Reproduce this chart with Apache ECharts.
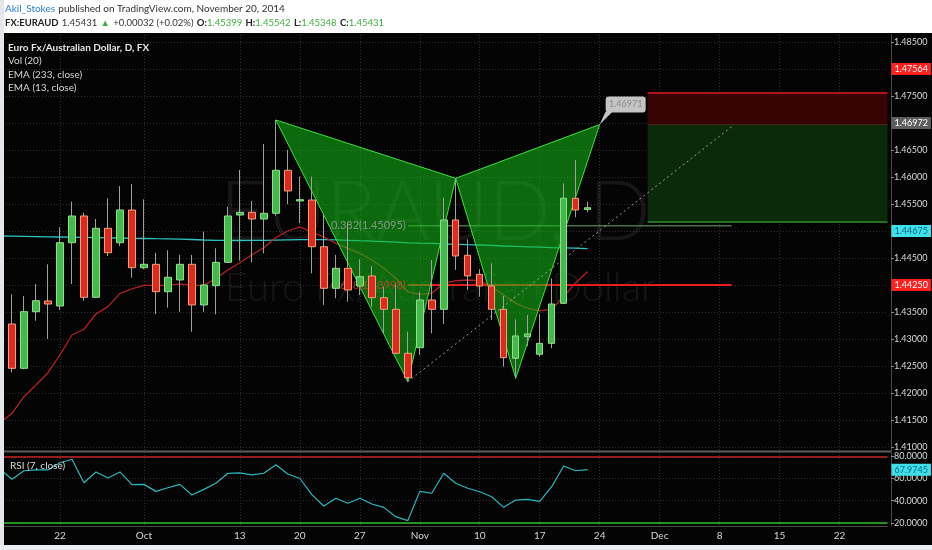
<!DOCTYPE html>
<html><head><meta charset="utf-8">
<script src="https://cdn.jsdelivr.net/npm/echarts@6/dist/echarts.min.js"></script>
<style>html,body{margin:0;padding:0;background:#fff;}#c{width:932px;height:550px;}</style>
</head><body><div id="c"></div>
<script>
// ---- categories (trading days) ----
const dates = [
 '2014-09-15','2014-09-16','2014-09-17','2014-09-18','2014-09-19','2014-09-22','2014-09-23','2014-09-24','2014-09-25','2014-09-26','2014-09-29','2014-09-30',
 '2014-10-01','2014-10-02','2014-10-03','2014-10-06','2014-10-07','2014-10-08','2014-10-09','2014-10-10','2014-10-13','2014-10-14','2014-10-15','2014-10-16','2014-10-17',
 '2014-10-20','2014-10-21','2014-10-22','2014-10-23','2014-10-24','2014-10-27','2014-10-28','2014-10-29','2014-10-30','2014-10-31',
 '2014-11-03','2014-11-04','2014-11-05','2014-11-06','2014-11-07','2014-11-10','2014-11-11','2014-11-12','2014-11-13','2014-11-14',
 '2014-11-17','2014-11-18','2014-11-19','2014-11-20','2014-11-21','2014-11-24','2014-11-25','2014-11-26','2014-11-27','2014-11-28',
 '2014-12-01','2014-12-02','2014-12-03','2014-12-04','2014-12-05','2014-12-08','2014-12-09','2014-12-10','2014-12-11','2014-12-12',
 '2014-12-15','2014-12-16','2014-12-17','2014-12-18','2014-12-19','2014-12-22','2014-12-23','2014-12-24','2014-12-25','2014-12-26'
];
const tickDates = ['2014-09-22','2014-10-01','2014-10-13','2014-10-20','2014-10-27','2014-11-03','2014-11-10','2014-11-17','2014-11-24','2014-12-01','2014-12-08','2014-12-15','2014-12-22'];
const tickLabels = ['22','Oct','13','20','27','Nov','10','17','24','Dec','8','15','22'];
const priceTicks = [1.410,1.415,1.420,1.425,1.430,1.435,1.440,1.445,1.450,1.455,1.460,1.465,1.470,1.475,1.480,1.485];
const rsiTicks = [20,40,60,80];

// ---- OHLC ----
const openP = [null,1.43278,1.42457,1.43506,1.43704,1.43611,1.44783,1.45278,1.43772,1.45050,1.44783,1.45389,1.44320,1.44383,1.43876,1.44093,1.44383,1.43630,1.43987,1.44420,1.45296,1.45346,1.45222,1.45328,1.46124,1.45556,1.45574,1.44709,1.43939,1.44309,1.43981,1.44167,1.43765,1.43550,1.42735,1.42839,1.43722,1.43550,1.45204,1.44550,1.44198,1.43981,1.43550,1.42643,1.43043,1.42717,1.42920,1.43661,1.45606,1.45399];
const closeP = [null,1.42457,1.43506,1.43709,1.43648,1.44783,1.45278,1.43772,1.45050,1.44598,1.45389,1.44320,1.44383,1.43876,1.44143,1.44383,1.43630,1.44000,1.44420,1.45278,1.45346,1.45222,1.45328,1.46124,1.45741,1.45580,1.44709,1.43939,1.44309,1.43907,1.44154,1.43765,1.43550,1.42735,1.42283,1.43722,1.43550,1.45204,1.44537,1.44167,1.43981,1.43550,1.42654,1.43056,1.43093,1.42920,1.43648,1.45606,1.45389,1.45431];
const highP = [null,1.43828,1.43796,1.44019,1.44383,1.45068,1.45543,1.45339,1.45222,1.45606,1.45833,1.45870,1.45587,1.44598,1.44643,1.44556,1.44556,1.44987,1.44680,1.45450,1.46130,1.45556,1.46611,1.47056,1.46500,1.46006,1.46006,1.45296,1.44556,1.45143,1.44476,1.44352,1.43969,1.44043,1.43135,1.43876,1.44463,1.45617,1.45976,1.44846,1.44291,1.44402,1.43796,1.43365,1.43444,1.43457,1.44124,1.45883,1.46315,1.45542];
const lowP = [null,1.42383,1.42440,1.43339,1.43000,1.43537,1.44019,1.43709,1.43760,1.44537,1.44722,1.44135,1.44291,1.43463,1.43580,1.43506,1.43135,1.43506,1.43457,1.44410,1.44450,1.44420,1.44587,1.45283,1.45494,1.45143,1.44217,1.43630,1.43754,1.43691,1.43815,1.43599,1.43106,1.42720,1.42209,1.42704,1.43106,1.43278,1.44278,1.43907,1.43784,1.43352,1.42487,1.42272,1.42870,1.42672,1.42828,1.43648,1.45254,1.45348];

// ---- indicators ----
const ema13 = [1.41444,1.41624,1.41932,1.42148,1.42376,1.42704,1.43074,1.43180,1.43463,1.43599,1.43846,1.43926,1.43994,1.43994,1.43994,1.44019,1.43994,1.43994,1.44124,1.44278,1.44413,1.44560,1.44690,1.44880,1.45000,1.45075,1.44981,1.44889,1.44772,1.44680,1.44587,1.44463,1.44309,1.44124,1.43876,1.43828,1.43846,1.44031,1.44080,1.44093,1.44080,1.43969,1.43815,1.43661,1.43569,1.43525,1.43550,1.43784,1.44043,1.44250];
const ema233 = [1.44907,1.44904,1.44900,1.44896,1.44893,1.44889,1.44885,1.44881,1.44878,1.44874,1.44870,1.44865,1.44861,1.44857,1.44854,1.44850,1.44843,1.44833,1.44828,1.44826,1.44824,1.44826,1.44828,1.44831,1.44835,1.44839,1.44841,1.44839,1.44835,1.44828,1.44820,1.44813,1.44804,1.44793,1.44781,1.44774,1.44769,1.44761,1.44754,1.44746,1.44741,1.44733,1.44722,1.44715,1.44707,1.44700,1.44693,1.44687,1.44681,1.44675];
const rsi7 = [68.4,59.3,67.0,67.7,67.7,74.2,77.3,56.2,65.9,60.5,65.9,54.4,54.7,48.4,51.7,54.7,45.1,50.2,55.7,64.7,65.0,63.2,64.7,72.4,64.1,60.0,45.5,35.2,42.2,37.7,42.2,37.0,34.0,25.6,22.0,48.4,46.7,64.7,55.7,51.2,48.1,43.6,34.0,40.6,41.2,39.4,52.6,71.3,67.0,67.9745];

// ---- drawings ----
const patternDates = ['2014-10-16','2014-10-31','2014-11-06','2014-11-13','2014-11-24'];
const patternPrices = [1.47056,1.42209,1.45976,1.42272,1.46971];
const trendDates = ['2014-10-31','2014-12-09'];
const trendPrices = [1.42209,1.46930];
const fibRatios = ['0.382','0.618'];
const fibLevels = [1.45095,1.43998];
const fibDates = ['2014-10-31','2014-12-09'];
const zoneDates = ['2014-11-28','2014-12-26'];
const zoneLevels = [1.47564,1.46972,1.45166]; // stop, entry, target
const priceTags = [1.47564,1.46972,1.45431,1.45166,1.44675,1.44250];
const rsiTag = 67.9745;

// ---- layout constants ----
const MAIN_MIN = 1.409259, MAIN_MAX = 1.486296;
const RSI_MIN = 17.2, RSI_MAX = 83.87;
const AX = "Lato, 'Liberation Sans', sans-serif";
const UI = "Lato, 'Liberation Sans', sans-serif";
const GRIDC = '#2f2f2f';

const isTick = (i, v) => tickDates.indexOf(v) >= 0;
const wickData = openP.map((o,i)=> o==null ? '-' : [o, closeP[i], lowP[i], highP[i]]);
const bodyData = openP.map((o,i)=> o==null ? '-' : [o, closeP[i], Math.min(o,closeP[i]), Math.max(o,closeP[i])]);

const tagBg = ['#ff2020','#5e5e5e','#3aa83a','#2a9a2a','#3ee0ea','#ff2020'];
const tagFg = ['#fff','#fff','#fff','#fff','#14657c','#fff'];

const chart = echarts.init(document.getElementById('c'), null, {renderer:'canvas'});
const option = {
  animation:false,
  backgroundColor:'#040404',
  grid:[
    {left:-0.5, right:44.5, top:35, height:416},
    {left:-0.5, right:44.5, top:452, height:74}
  ],
  xAxis:[
    {type:'category', gridIndex:0, data:dates, boundaryGap:false,
     axisLine:{show:false}, axisTick:{show:false}, axisLabel:{show:false},
     splitLine:{show:true, interval:isTick, lineStyle:{color:GRIDC, type:[1,2]}}},
    {type:'category', gridIndex:1, data:dates, boundaryGap:false,
     axisLine:{show:true, lineStyle:{color:'#4a4a4a'}}, axisTick:{show:false},
     axisLabel:{interval:isTick, formatter:v=>tickLabels[tickDates.indexOf(v)], color:'#d6d6d6', fontSize:10, margin:5, fontFamily:AX},
     splitLine:{show:true, interval:isTick, lineStyle:{color:GRIDC, type:[1,2]}}}
  ],
  yAxis:[
    {type:'value', gridIndex:0, position:'right', offset:3.5, min:MAIN_MIN, max:MAIN_MAX,
     axisLine:{show:true, lineStyle:{color:'#4a4a4a'}},
     axisTick:{show:true, length:3, customValues:priceTicks, lineStyle:{color:'#888'}},
     axisLabel:{customValues:priceTicks, formatter:v=>v.toFixed(5), color:'#dadada', fontSize:9, margin:3, fontFamily:AX},
     splitLine:{show:true, lineStyle:{color:GRIDC, type:[1,2]}}},
    {type:'value', gridIndex:1, position:'right', offset:3.5, min:RSI_MIN, max:RSI_MAX,
     axisLine:{show:true, lineStyle:{color:'#4a4a4a'}},
     axisTick:{show:true, length:3, customValues:rsiTicks, lineStyle:{color:'#888'}},
     axisLabel:{customValues:rsiTicks, formatter:v=>v.toFixed(4), color:'#dadada', fontSize:9, margin:3, fontFamily:AX},
     splitLine:{show:true, lineStyle:{color:GRIDC, type:[1,2]}}}
  ],
  series:[
    {name:'EMA233', type:'line', xAxisIndex:0, yAxisIndex:0, data:ema233, symbol:'none', z:2, silent:true,
     lineStyle:{color:'#2cc2c2', width:1.3}},
    {name:'EMA13', type:'line', xAxisIndex:0, yAxisIndex:0, data:ema13, symbol:'none', z:2, silent:true,
     lineStyle:{color:'#b52020', width:1.3}},
    {name:'fib0', type:'line', xAxisIndex:0, yAxisIndex:0, z:2, silent:true, symbol:'none',
     data:[[fibDates[0], fibLevels[0]],[fibDates[1], fibLevels[0]]],
     lineStyle:{color:'rgba(95,150,95,0.75)', width:1.5},
     markPoint:{silent:true, symbol:'circle', symbolSize:0, data:[{coord:[fibDates[0], fibLevels[0]]}],
       label:{show:true, position:'left', distance:2, formatter:fibRatios[0]+'('+fibLevels[0].toFixed(5)+')', color:'rgba(150,160,150,0.85)', fontSize:11, fontFamily:UI}}},
    {name:'fib1', type:'line', xAxisIndex:0, yAxisIndex:0, z:2, silent:true, symbol:'none',
     data:[[fibDates[0], fibLevels[1]],[fibDates[1], fibLevels[1]]],
     lineStyle:{color:'#e81c1c', width:2},
     markPoint:{silent:true, symbol:'circle', symbolSize:0, data:[{coord:[fibDates[0], fibLevels[1]]}],
       label:{show:true, position:'left', distance:2, formatter:fibRatios[1]+'('+fibLevels[1].toFixed(5)+')', color:'rgba(200,70,40,0.85)', fontSize:11, fontFamily:UI}}},
    {name:'zones', type:'line', xAxisIndex:0, yAxisIndex:0, z:1, silent:true, symbol:'none',
     data:[[zoneDates[0], zoneLevels[1]],[zoneDates[1], zoneLevels[1]]],
     lineStyle:{color:'rgba(120,60,40,0.5)', width:1},
     markArea:{silent:true, data:[
       [{xAxis:zoneDates[0], yAxis:zoneLevels[0], itemStyle:{color:'#380303'}},{xAxis:zoneDates[1], yAxis:zoneLevels[1]}],
       [{xAxis:zoneDates[0], yAxis:zoneLevels[1], itemStyle:{color:'#0a2a0a'}},{xAxis:zoneDates[1], yAxis:zoneLevels[2]}]
     ]},
     markLine:{silent:true, symbol:['none','none'], label:{show:false}, data:[
       [{coord:[zoneDates[0], zoneLevels[0]], lineStyle:{color:'#e01a1a', width:1.5, type:'solid'}},{coord:[zoneDates[1], zoneLevels[0]]}],
       [{coord:[zoneDates[0], zoneLevels[2]], lineStyle:{color:'#2f8f2f', width:1.5, type:'solid'}},{coord:[zoneDates[1], zoneLevels[2]]}]
     ]}},
    {name:'pattern', type:'custom', xAxisIndex:0, yAxisIndex:0, z:3, silent:true, data:[[0, patternPrices[0]]],
     renderItem:(params, api)=>{
       const p = patternDates.map((d,i)=>api.coord([dates.indexOf(d), patternPrices[i]]));
       const st = {fill:'rgba(22,190,22,0.55)', stroke:'#3ee03e', lineWidth:1};
       return {type:'group', children:[
         {type:'polygon', shape:{points:[p[0],p[1],p[2]]}, style:st},
         {type:'polygon', shape:{points:[p[2],p[3],p[4]]}, style:st}
       ]};
     }},
    {name:'trend', type:'line', xAxisIndex:0, yAxisIndex:0, z:5, silent:true, symbol:'none',
     data:[[trendDates[0], trendPrices[0]],[trendDates[1], trendPrices[1]]],
     lineStyle:{color:'rgba(200,200,200,0.75)', width:1, type:[2,3]}},
    {name:'wicks', type:'candlestick', xAxisIndex:0, yAxisIndex:0, z:4, silent:true, data:wickData, barWidth:1,
     itemStyle:{color:'#a0a0a0', color0:'#a0a0a0', borderColor:'#a0a0a0', borderColor0:'#a0a0a0', borderWidth:1}},
    {name:'bodies', type:'candlestick', xAxisIndex:0, yAxisIndex:0, z:5, silent:true, data:bodyData, barWidth:7,
     itemStyle:{color:'#45b84a', color0:'#dc2a1f', borderColor:'#8ee08e', borderColor0:'#f5a07c', borderWidth:1},
     markLine:{silent:true, symbol:['none','none'],
       data:priceTags.map((v,i)=>({yAxis:v, lineStyle:{color:'rgba(0,0,0,0)', width:0},
         label:{show:true, position:'end', distance:4, formatter:v.toFixed(5), backgroundColor:tagBg[i], color:tagFg[i], fontSize:9, fontFamily:AX, padding:[2,3,1,3]}}))}},
    {name:'callout', type:'custom', xAxisIndex:0, yAxisIndex:0, z:6, silent:true, data:[[0, patternPrices[4]]],
     renderItem:(params, api)=>{
       const d = api.coord([dates.indexOf(patternDates[4]), patternPrices[4]]);
       return {type:'group', children:[
         {type:'polygon', shape:{points:[[d[0],d[1]],[d[0]+6,d[1]-13],[d[0]+13,d[1]-13]]}, style:{fill:'#c4c4c4'}},
         {type:'rect', shape:{x:d[0]+6, y:d[1]-28, width:40, height:16, r:3}, style:{fill:'#c4c4c4'}},
         {type:'text', style:{text:patternPrices[4].toFixed(5), x:d[0]+26, y:d[1]-20, align:'center', verticalAlign:'middle', fill:'#8a8a8a', font:'9px '+AX}}
       ]};
     }},
    {name:'RSI', type:'line', xAxisIndex:1, yAxisIndex:1, data:rsi7, symbol:'none', z:3, silent:true,
     lineStyle:{color:'#2ab8bd', width:1.2},
     markLine:{silent:true, symbol:['none','none'], data:[
       {yAxis:rsiTicks[3], lineStyle:{color:'#c22424', width:1.5, type:'solid'}, label:{show:false}},
       {yAxis:rsiTicks[0], lineStyle:{color:'#2fbf2f', width:1.5, type:'solid'}, label:{show:false}},
       {yAxis:rsiTag, lineStyle:{color:'rgba(0,0,0,0)', width:0},
        label:{show:true, position:'end', distance:4, formatter:rsiTag.toFixed(4), backgroundColor:'#3ee0ea', color:'#14657c', fontSize:9, fontFamily:AX, padding:[2,3,1,3]}}
     ]}}
  ],
  graphic:[
    {type:'text', z:1, silent:true, style:{text:'EURAUD, D', x:435, y:214, align:'center', verticalAlign:'middle', fill:'rgba(255,255,255,0.075)', font:'300 82px Lato, sans-serif'}},
    {type:'text', z:1, silent:true, style:{text:'Euro Fx/Australian Dollar', x:440, y:288, align:'center', verticalAlign:'middle', fill:'rgba(255,255,255,0.075)', font:'300 40px Lato, sans-serif'}},
    {type:'text', z:10, silent:true, style:{text:'Euro Fx/Australian Dollar, D, FX', x:8, y:47.5, verticalAlign:'middle', fill:'#e6e6e6', font:'bold 10px '+UI}},
    {type:'text', z:10, silent:true, style:{text:'Vol (20)', x:8, y:61, verticalAlign:'middle', fill:'#d8d8d8', font:'10px '+UI}},
    {type:'text', z:10, silent:true, style:{text:'EMA (233, close)', x:8, y:74.5, verticalAlign:'middle', fill:'#d8d8d8', font:'10px '+UI}},
    {type:'text', z:10, silent:true, style:{text:'EMA (13, close)', x:8, y:88, verticalAlign:'middle', fill:'#d8d8d8', font:'10px '+UI}},
    {type:'text', z:10, silent:true, style:{text:'RSI (7, close)', x:10, y:466, verticalAlign:'middle', fill:'#d8d8d8', font:'10px '+UI}},
    {type:'rect', z:50, silent:true, shape:{x:4, y:450.5, width:887, height:2}, style:{fill:'#5c5c5c'}},
    {type:'rect', z:100, silent:true, shape:{x:0, y:0, width:932, height:33}, style:{fill:'#ffffff'}},
    {type:'rect', z:100, silent:true, shape:{x:0, y:0, width:4, height:550}, style:{fill:'#e3e6eb'}},
    {type:'rect', z:100, silent:true, shape:{x:0, y:545, width:932, height:5}, style:{fill:'#eceff3'}},
    {type:'text', z:101, silent:true, style:{x:5, y:9, verticalAlign:'middle',
      text:'{a|Akil_Stokes} {b|published on TradingView.com, November 20, 2014}',
      rich:{a:{fill:'#2a7fd4', fontSize:10, fontFamily:UI}, b:{fill:'#333', fontSize:10, fontFamily:UI}}}},
    {type:'text', z:101, silent:true, style:{x:5, y:23, verticalAlign:'middle',
      text:'{k|FX:EURAUD} {b|1.45431} {g|▲} {b|+0.00032 (+0.02%)} {k|O:}{g|1.45399} {k|H:}{g|1.45542} {k|L:}{g|1.45348} {k|C:}{g|1.45431}',
      rich:{k:{fill:'#222', fontWeight:'bold', fontSize:9.5, fontFamily:UI}, b:{fill:'#333', fontSize:9.5, fontFamily:UI}, g:{fill:'#3fae3f', fontSize:9.5, fontFamily:UI}}}}
  ]
};
chart.setOption(option);
</script>
</body></html>
